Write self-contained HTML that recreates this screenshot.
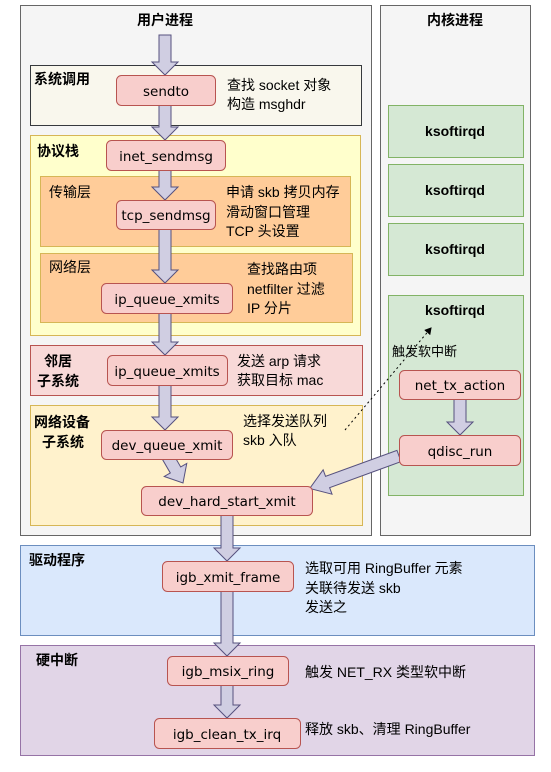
<!DOCTYPE html>
<html><head><meta charset="utf-8"><style>
body{margin:0;background:#fff}
svg text{font-family:"Liberation Sans","Noto Sans CJK SC",sans-serif;font-size:14px;fill:#000}
.b{font-weight:bold}
.m{font-family:"DejaVu Sans","Noto Sans CJK SC",sans-serif;font-size:13.5px}
.n{fill:#f8cecc;stroke:#b85450;stroke-width:1}
.a{fill:#d0cee2;stroke:#56517e;stroke-width:1}
</style></head><body>
<svg width="551" height="767" xmlns="http://www.w3.org/2000/svg">
<defs>
<marker id="dh" markerWidth="8" markerHeight="8" refX="6" refY="4" orient="auto"><path d="M0,0 L7,4 L0,8 Z" fill="#000"/></marker>
</defs>
<rect x="20.5" y="5.5" width="351" height="530" fill="#f5f5f5" stroke="#666"/>
<rect x="380.5" y="5.5" width="150" height="530" fill="#f5f5f5" stroke="#666"/>
<text x="165" y="25" text-anchor="middle" class="b">用户进程</text>
<text x="455" y="25" text-anchor="middle" class="b">内核进程</text>

<rect x="30.5" y="65.5" width="331" height="60" fill="#f9f7ed" stroke="#36393d"/>
<text x="34" y="84" class="b">系统调用</text>

<rect x="30.5" y="135.5" width="330" height="200" fill="#ffffcc" stroke="#d6b656"/>
<text x="37" y="156" class="b">协议栈</text>
<rect x="40.5" y="176.5" width="310" height="70" fill="#ffcc99" stroke="#d6b656"/>
<text x="49" y="197">传输层</text>
<rect x="40.5" y="253.5" width="312" height="69" fill="#ffcc99" stroke="#d6b656"/>
<text x="49" y="272">网络层</text>

<rect x="30.5" y="345.5" width="332" height="50" fill="#f8d9d8" stroke="#b85450"/>
<text x="44" y="366" class="b">邻居</text>
<text x="37" y="386" class="b">子系统</text>

<rect x="30.5" y="405.5" width="332" height="120" fill="#fff2cc" stroke="#d6b656"/>
<text x="34" y="427" class="b">网络设备</text>
<text x="42" y="447" class="b">子系统</text>

<rect x="20.5" y="545.5" width="514" height="90" fill="#dae8fc" stroke="#6c8ebf"/>
<text x="29" y="565" class="b">驱动程序</text>
<rect x="20.5" y="645.5" width="514" height="110" fill="#e1d5e7" stroke="#9673a6"/>
<text x="36" y="665" class="b">硬中断</text>

<rect x="388.5" y="105.5" width="135" height="52" fill="#d5e8d4" stroke="#82b366"/>
<text x="455" y="136" text-anchor="middle" class="b">ksoftirqd</text>
<rect x="388.5" y="164.5" width="135" height="52" fill="#d5e8d4" stroke="#82b366"/>
<text x="455" y="195" text-anchor="middle" class="b">ksoftirqd</text>
<rect x="388.5" y="223.5" width="135" height="52" fill="#d5e8d4" stroke="#82b366"/>
<text x="455" y="254" text-anchor="middle" class="b">ksoftirqd</text>
<rect x="388.5" y="295.5" width="135" height="200" fill="#d5e8d4" stroke="#82b366"/>
<text x="455" y="315" text-anchor="middle" class="b">ksoftirqd</text>
<text x="392" y="356" style="font-size:13px">触发软中断</text>

<g>
<path class="a" d="M159,35 H171 V62 H178 L165,75 L152,62 H159 Z"/>
<path class="a" d="M159,105 H171 V127 H178 L165,140 L152,127 H159 Z"/>
<path class="a" d="M159,170 H171 V187 H178 L165,200 L152,187 H159 Z"/>
<path class="a" d="M159,229 H171 V270 H178 L165,283 L152,270 H159 Z"/>
<path class="a" d="M159,313 H171 V342 H178 L165,355 L152,342 H159 Z"/>
<path class="a" d="M159,385 H171 V417 H178 L165,430 L152,417 H159 Z"/>
<path class="a" d="M-6,0 H6 V15 H13 L0,30 L-13,15 H-6 Z" transform="translate(168,457) rotate(-30)"/>
<path class="a" d="M221,515 H233 V548 H240 L227,561 L214,548 H221 Z"/>
<path class="a" d="M221,591 H233 V643 H240 L227,656 L214,643 H221 Z"/>
<path class="a" d="M221,685 H233 V705 H240 L227,718 L214,705 H221 Z"/>
<path class="a" d="M454,399 H466 V422 H473 L460,435 L447,422 H454 Z"/>
<path class="a" d="M-6,0 H6 V76 H13 L0,95 L-13,76 H-6 Z" transform="translate(399,456) rotate(70)"/>
</g>
<line x1="345" y1="430" x2="431" y2="328" stroke="#000" stroke-dasharray="2,3" marker-end="url(#dh)"/>

<rect class="n" x="116.5" y="75.5" width="99" height="30" rx="5"/>
<text x="166" y="96" text-anchor="middle" class="m">sendto</text>
<rect class="n" x="106.5" y="140.5" width="119" height="30" rx="5"/>
<text x="166" y="161" text-anchor="middle" class="m">inet_sendmsg</text>
<rect class="n" x="116.5" y="200.5" width="99" height="29" rx="5"/>
<text x="166" y="220" text-anchor="middle" class="m">tcp_sendmsg</text>
<rect class="n" x="101.5" y="283.5" width="131" height="30" rx="5"/>
<text x="167" y="304" text-anchor="middle" class="m">ip_queue_xmits</text>
<rect class="n" x="107.5" y="355.5" width="120" height="30" rx="5"/>
<text x="167" y="376" text-anchor="middle" class="m">ip_queue_xmits</text>
<rect class="n" x="101.5" y="430.5" width="131" height="29" rx="5"/>
<text x="167" y="450" text-anchor="middle" class="m">dev_queue_xmit</text>
<rect class="n" x="141.5" y="486.5" width="171" height="29" rx="5"/>
<text x="227" y="506" text-anchor="middle" class="m">dev_hard_start_xmit</text>
<rect class="n" x="162.5" y="561.5" width="131" height="30" rx="5"/>
<text x="228" y="582" text-anchor="middle" class="m">igb_xmit_frame</text>
<rect class="n" x="167.5" y="656.5" width="121" height="29" rx="5"/>
<text x="228" y="676" text-anchor="middle" class="m">igb_msix_ring</text>
<rect class="n" x="154.5" y="718.5" width="146" height="30" rx="5"/>
<text x="227" y="739" text-anchor="middle" class="m">igb_clean_tx_irq</text>
<rect class="n" x="399.5" y="370.5" width="121" height="29" rx="5"/>
<text x="460" y="390" text-anchor="middle" class="m">net_tx_action</text>
<rect class="n" x="399.5" y="435.5" width="121" height="30" rx="5"/>
<text x="460" y="456" text-anchor="middle" class="m">qdisc_run</text>

<text x="227" y="90">查找 socket 对象</text>
<text x="227" y="109">构造 msghdr</text>
<text x="226" y="197">申请 skb 拷贝内存</text>
<text x="226" y="217">滑动窗口管理</text>
<text x="226" y="236">TCP 头设置</text>
<text x="247" y="274">查找路由项</text>
<text x="247" y="294">netfilter 过滤</text>
<text x="247" y="313">IP 分片</text>
<text x="237" y="366">发送 arp 请求</text>
<text x="237" y="385">获取目标 mac</text>
<text x="243" y="426">选择发送队列</text>
<text x="243" y="445">skb 入队</text>
<text x="305" y="573">选取可用 RingBuffer 元素</text>
<text x="305" y="593">关联待发送 skb</text>
<text x="305" y="612">发送之</text>
<text x="305" y="677">触发 NET_RX 类型软中断</text>
<text x="305" y="734">释放 skb、清理 RingBuffer</text>
</svg>
</body></html>
